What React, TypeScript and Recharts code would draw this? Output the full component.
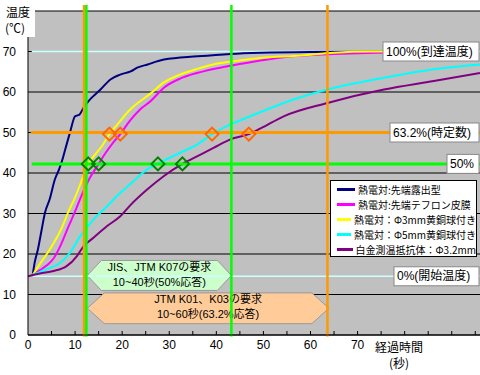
import {
  ComposedChart,
  Line,
  Scatter,
  XAxis,
  YAxis,
  CartesianGrid,
  ReferenceLine,
  ReferenceArea,
} from 'recharts';

// 経過時間 [秒], 温度 [℃]
const exposedTip = [
  [1, 14.8], [1.4, 17.8], [2.1, 21.1], [2.9, 26], [3.6, 30.2], [4.6, 33.5],
  [5.7, 38.4], [6.6, 40.9], [7.2, 42.9], [7.9, 45.8], [8.9, 49.9], [10, 54],
  [10.9, 54.4], [11.8, 56.1], [12.8, 57.7], [15.4, 60.6], [17.5, 63.1],
  [19.6, 64.3], [21.8, 65.1], [23.2, 66], [25.4, 66.8], [28.9, 68], [36, 68.8],
  [43, 69.4], [49.5, 69.7], [60, 69.9], [80, 70],
];
const teflonTip = [
  [1, 14.9], [2.5, 16], [4, 17.2], [5.5, 19], [7, 22.3], [8.5, 26.5], [10, 30.5],
  [11.5, 34.8], [13, 38.5], [15, 42.25], [16.5, 45], [18, 47.4], [19.6, 49.6],
  [21.7, 53], [23.8, 55.7], [26, 57.7], [28.8, 61], [32.3, 63.3], [35.9, 64.7],
  [39.4, 65.7], [43, 66.5], [49.4, 67.8], [54.3, 68.6], [61.4, 69.2], [74.4, 69.7],
  [80, 69.8],
];
const brass3mm = [
  [1, 14.8], [2.5, 17.5], [4, 20], [5.5, 22.8], [7, 26], [8.5, 30.2], [10, 34],
  [11.5, 38.4], [12.8, 42.25], [14.3, 44.6], [15.8, 46.8], [17.3, 49.6], [19, 52],
  [21.7, 55.7], [23.8, 57.7], [26, 59.6], [28.8, 62.3], [32.3, 64.3], [35.9, 65.7],
  [39.4, 66.8], [43, 67.5], [49.4, 68.4], [57.9, 69], [64.9, 69.7], [72.8, 70],
  [80, 70],
];
const brass5mm = [
  [1, 14.9], [3.9, 16.2], [6.8, 17.8], [8.9, 20.3], [11.1, 24.4], [13.9, 28.5],
  [16.8, 31.8], [19.6, 35.1], [21.7, 37.2], [25.3, 40.9], [27.6, 42.3], [32.3, 45],
  [35.9, 47], [39.1, 49.6], [43, 52], [47.2, 54], [54.3, 57.3], [63.6, 60.6],
  [75.6, 63.5], [86.2, 65.6], [96, 66.8],
];
const platinumRtd = [
  [0, 14.5], [2.5, 15.2], [5.4, 15.8], [8.2, 17], [10.4, 19.5], [11.8, 21.9],
  [13.9, 24], [16.8, 26.9], [19.6, 29.3], [21.7, 32], [25.3, 35.9], [28.8, 39.2],
  [32.8, 42.25], [35.9, 44.1], [39.4, 46.2], [43, 48.3], [46.9, 49.6], [49.4, 51],
  [54.3, 54], [63.6, 57.3], [75.6, 60.6], [86.2, 62.7], [96, 64.7],
];

// 50%応答 / 63.2%応答 の点
const halfResponse = [[12.8, 42.25], [15, 42.25], [27.6, 42.25], [32.8, 42.25]];
const timeConstant = [[17.3, 49.6], [19.6, 49.6], [39.1, 49.6], [46.9, 49.6]];

const START_TEMP = 14.5;
const END_TEMP = 70;
const TEMP_632 = 50;
const TEMP_50 = 42.25;

const jisLines = [12.4, 43.2];
const jtmLines = [11.9, 63.6];

const xTicks = [0, 5, 10, 15, 20, 25, 30, 35, 40, 45, 50, 55, 60, 65, 70, 75, 80, 85, 90, 95];
const yTicks = [0, 10, 20, 30, 40, 50, 60, 70];

const pts = (rows: number[][]) => rows.map(([t, v]) => ({ t, v }));

const series = [
  { name: '熱電対:先端露出型', color: '#000080', data: exposedTip },
  { name: '熱電対:先端テフロン皮膜', color: '#FF00FF', data: teflonTip },
  { name: '熱電対：Φ3mm黄銅球付き', color: '#FFFF00', data: brass3mm },
  { name: '熱電対：Φ5mm黄銅球付き', color: '#00FFFF', data: brass5mm },
  { name: '白金測温抵抗体：Φ3.2mm', color: '#800080', data: platinumRtd },
];

const levelLabels = [
  { text: '100%(到達温度)', y: END_TEMP, left: 383 },
  { text: '63.2%(時定数)', y: TEMP_632, left: 390 },
  { text: '50%', y: TEMP_50, left: 447 },
  { text: '0%(開始温度)', y: START_TEMP, left: 394 },
];

const FONT = '"Liberation Sans", "Noto Sans CJK JP", sans-serif';
const JP_FONT = '"Noto Sans CJK JP", sans-serif';
const X_TICK_MARGIN = 4;

const XTick = (props: any) => {
  const { x, y, payload } = props;
  const axisY = y - X_TICK_MARGIN;
  const v = payload.value;
  return (
    <g>
      {v > 0 && <line x1={x} x2={x} y1={axisY} y2={axisY - 4} stroke="#000" />}
      {v % 10 === 0 && v <= 70 && (
        <text x={x} y={axisY + 10} textAnchor="middle" dominantBaseline="central" fontSize={12} fill="#000">
          {v}
        </text>
      )}
    </g>
  );
};

const diamond = (color: string) => (props: any) => {
  const { cx, cy } = props;
  const r = 6.5;
  return (
    <polygon
      points={`${cx},${cy - r} ${cx + r},${cy} ${cx},${cy + r} ${cx - r},${cy}`}
      fill="none"
      stroke={color}
      strokeWidth={2}
    />
  );
};

const hexBox = (fill: string, inset: number, lines: string[], shift: number) => (props: any) => {
  const { x, y, width, height } = props;
  const cy = y + height / 2;
  const r = x + width;
  const b = y + height;
  return (
    <g>
      <polygon
        points={`${x},${cy} ${x + inset},${y} ${r - inset},${y} ${r},${cy} ${r - inset},${b} ${x + inset},${b}`}
        fill={fill}
        stroke="#999"
        strokeWidth={1}
      />
      <text x={x + width / 2} y={cy - 7.5 + shift} textAnchor="middle" dominantBaseline="central" fontSize={11} fill="#000">
        {lines[0]}
      </text>
      <text x={x + width / 2} y={cy + 7.5 + shift} textAnchor="middle" dominantBaseline="central" fontSize={11} fill="#000">
        {lines[1]}
      </text>
    </g>
  );
};

const levelBox = (text: string, left: number) => (props: any) => {
  const { viewBox } = props;
  const cy = viewBox.y;
  return (
    <g>
      <rect x={left} y={cy - 9.5} width={479 - left} height={19} fill="#fff" stroke="#888" />
      <text x={left + 3} y={cy} dominantBaseline="central" fontSize={12} fill="#000">
        {text}
      </text>
    </g>
  );
};

const textBlock = (left: number, top: number, width: number, align: 'left' | 'center') => ({
  position: 'absolute' as const,
  left,
  top,
  width,
  height: 14,
  lineHeight: '14px',
  fontSize: 12,
  textAlign: align,
  fontFamily: JP_FONT,
  whiteSpace: 'nowrap' as const,
});

export default function App() {
  return (
    <div style={{ position: 'relative', width: 480, height: 375, fontFamily: FONT, background: '#fff' }}>
      <style>{'body{margin:0}'}</style>
      <ComposedChart
        width={480}
        height={375}
        margin={{ top: 11, right: 0, left: 0, bottom: 0 }}
        style={{ fontFamily: FONT }}
      >
        <CartesianGrid vertical={false} stroke="#000" fill="#C0C0C0" />
        <XAxis
          type="number"
          dataKey="t"
          domain={[0, 96]}
          allowDataOverflow
          ticks={xTicks}
          interval={0}
          tickLine={false}
          tickSize={0}
          tickMargin={X_TICK_MARGIN}
          height={40}
          axisLine={{ stroke: '#000' }}
          tick={<XTick />}
        />
        <YAxis
          type="number"
          domain={[0, 80]}
          allowDataOverflow
          ticks={yTicks}
          interval={0}
          width={28}
          tickLine={false}
          tickSize={0}
          tickMargin={12}
          axisLine={{ stroke: '#000' }}
          tick={{ fontSize: 12, fill: '#000' }}
        />
        <ReferenceLine
          segment={[{ x: 0.8, y: END_TEMP }, { x: 96, y: END_TEMP }]}
          stroke="#CCFFFF"
          strokeWidth={1.5}
        />
        <ReferenceLine
          segment={[{ x: 0, y: START_TEMP }, { x: 96, y: START_TEMP }]}
          stroke="#CCFFFF"
          strokeWidth={1.5}
        />
        <ReferenceArea
          x1={12.6}
          x2={63.9}
          y1={2.8}
          y2={10.4}
          shape={hexBox('#FFCC99', 17, ['JTM K01、K03の要求', '10~60秒(63.2%応答)'], -2)}
        />
        <ReferenceArea
          x1={12.6}
          x2={43.2}
          y1={11}
          y2={18.4}
          shape={hexBox('#CCFFCC', 14, ['JIS、JTM K07の要求', '10~40秒(50%応答)'], -1)}
        />
        {series.map((s) => (
          <Line
            key={s.name}
            data={pts(s.data)}
            dataKey="v"
            name={s.name}
            type="monotone"
            stroke={s.color}
            strokeWidth={2}
            dot={false}
            activeDot={false}
            isAnimationActive={false}
          />
        ))}
        <ReferenceLine
          segment={[{ x: 0.6, y: TEMP_632 }, { x: 96, y: TEMP_632 }]}
          stroke="#FF9900"
          strokeWidth={3}
        />
        <ReferenceLine
          segment={[{ x: 0.8, y: TEMP_50 }, { x: 96, y: TEMP_50 }]}
          stroke="#00FF00"
          strokeWidth={3}
        />
        {jtmLines.map((t) => (
          <ReferenceLine
            key={`jtm-${t}`}
            segment={[{ x: t, y: -0.4 }, { x: t, y: 81.5 }]}
            ifOverflow="visible"
            stroke="#FF9900"
            strokeWidth={2.5}
          />
        ))}
        {jisLines.map((t) => (
          <ReferenceLine
            key={`jis-${t}`}
            segment={[{ x: t, y: -0.4 }, { x: t, y: 81.5 }]}
            ifOverflow="visible"
            stroke="#00FF00"
            strokeWidth={2.5}
          />
        ))}
        <Scatter data={pts(halfResponse)} dataKey="v" shape={diamond('#008000')} isAnimationActive={false} />
        <Scatter data={pts(timeConstant)} dataKey="v" shape={diamond('#FF6600')} isAnimationActive={false} />
        {levelLabels.map((l) => (
          <ReferenceLine key={l.text} y={l.y} stroke="none" label={levelBox(l.text, l.left)} />
        ))}
      </ComposedChart>

      {/* 縦軸タイトル */}
      <div style={{ position: 'absolute', left: 0, top: 0, width: 35, height: 37, background: '#fff' }} />
      <div style={textBlock(6, 5, 28, 'left')}>温度</div>
      <div style={textBlock(5, 21, 30, 'left')}>(℃)</div>

      {/* 横軸タイトル */}
      <div style={textBlock(372, 340, 54, 'center')}>経過時間</div>
      <div style={textBlock(372, 356, 54, 'center')}>(秒)</div>

      <div
        style={{
          position: 'absolute',
          left: 330,
          top: 180,
          width: 147,
          height: 77,
          boxSizing: 'border-box',
          border: '1px solid #000',
          background: '#fff',
          paddingTop: 1,
          fontFamily: JP_FONT,
        }}
      >
        {series.map((s) => (
          <div key={s.name} style={{ display: 'flex', alignItems: 'center', height: 15, fontSize: 10 }}>
            <span style={{ width: 18, height: 3, background: s.color, marginLeft: 6, marginRight: 3 }} />
            <span style={{ whiteSpace: 'nowrap' }}>{s.name}</span>
          </div>
        ))}
      </div>
    </div>
  );
}
